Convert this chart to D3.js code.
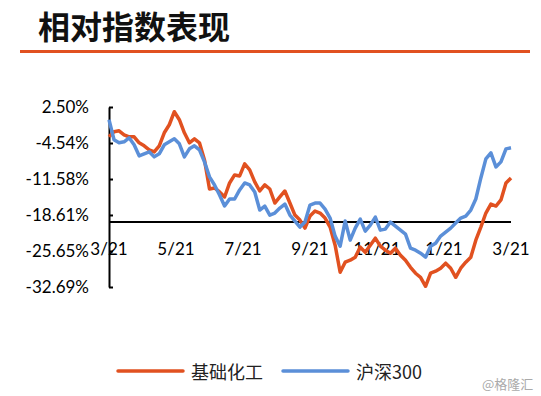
<!DOCTYPE html>
<html>
<head>
<meta charset="utf-8">
<script src="https://cdn.jsdelivr.net/npm/d3@7"></script>
<style>
  body { margin: 0; background: #fff; }
  svg { display: block; }
</style>
</head>
<body>
<script>
// values, in percent
const xLabels = ['3/21', '5/21', '7/21', '9/21', '11/21', '1/21', '3/21'];
const yTicks = [2.50, -4.54, -11.58, -18.61, -25.65, -32.69];
const baseValue = -20;

const chemical = [
  -3.33, -2.34, -2.15, -2.93, -3.33, -3.33, -4.50, -5.09, -5.88, -6.27,
  -5.09, -2.54, -0.97, 1.58, 0.01, -2.54, -4.50, -3.72, -4.50, -7.84,
  -13.53, -13.33, -14.11, -15.09, -12.35, -10.78, -10.98, -8.62, -9.80, -12.15,
  -13.92, -12.74, -13.53, -16.27, -15.09, -13.92, -16.27, -18.63, -19.61, -21.18,
  -18.82, -17.84, -18.23, -19.21, -20.98, -24.51, -29.81, -27.84, -27.45, -26.86,
  -24.90, -25.88, -24.51, -23.14, -24.71, -25.49, -26.08, -25.10, -26.47, -27.45,
  -28.83, -30.00, -30.79, -32.55, -30.00, -29.61, -29.02, -28.04, -29.02, -30.79,
  -29.02, -27.84, -26.86, -23.53, -20.98, -18.23, -16.47, -16.86, -15.68, -12.35,
  -11.37
];

const hs300 = [
  0.01, -3.91, -4.50, -4.31, -3.52, -4.89, -7.05, -6.66, -6.27, -7.25,
  -6.66, -4.89, -4.31, -3.72, -4.70, -7.25, -5.68, -5.09, -5.88, -8.23,
  -11.17, -12.74, -14.70, -16.86, -15.49, -15.49, -13.72, -12.35, -12.74, -14.11,
  -17.64, -16.86, -18.63, -18.23, -17.25, -16.47, -18.63, -19.80, -20.98, -20.00,
  -16.66, -16.27, -16.27, -17.45, -19.21, -22.74, -24.71, -19.80, -23.53, -21.18,
  -19.41, -21.76, -20.59, -19.02, -21.57, -21.37, -20.00, -20.78, -21.57, -22.35,
  -25.10, -25.49, -26.08, -26.86, -24.71, -24.12, -22.74, -21.96, -21.18, -20.19,
  -19.21, -18.82, -17.64, -15.49, -11.37, -7.64, -6.46, -9.21, -8.23, -5.68,
  -5.48
];

const seriesNames = ['基础化工', '沪深300'];
const seriesColors = ['#e15120', '#5b8fd8'];

function drawChart() {
  const svgWidth = 541, svgHeight = 396;
  const left = 109, right = 511, top = 107, bottom = 287;
  const labelFont = 'Lato, "Liberation Sans", sans-serif';
  const cjkFont = '"Noto Sans CJK SC", sans-serif';

  const svg = d3.select('body')
    .append('svg')
    .attr('width', svgWidth)
    .attr('height', svgHeight);

  // title + rule
  svg.append('text')
    .attr('x', 38)
    .attr('y', 25)
    .attr('dominant-baseline', 'central')
    .style('font-family', cjkFont)
    .style('font-weight', 'bold')
    .style('font-size', '32px')
    .attr('fill', '#111')
    .text('相对指数表现');

  svg.append('line')
    .attr('x1', 20).attr('x2', 530)
    .attr('y1', 51.5).attr('y2', 51.5)
    .attr('stroke', '#e15120')
    .attr('stroke-width', 3);

  const n = chemical.length;
  const xScale = d3.scaleLinear()
    .domain([0, n - 1])
    .range([left, right]);

  const yScale = d3.scaleLinear()
    .domain([d3.min(yTicks), d3.max(yTicks)])
    .range([bottom, top]);

  const yAxis = d3.axisLeft(yScale)
    .tickValues(yTicks)
    .tickFormat(d => d.toFixed(2) + '%')
    .tickSizeInner(-4)
    .tickSizeOuter(0)
    .tickPadding(20);

  const gy = svg.append('g')
    .attr('transform', `translate(${left}, 0)`)
    .call(yAxis);
  gy.select('.domain').attr('stroke', '#000').attr('stroke-width', 2);
  gy.selectAll('.tick line').attr('stroke', '#000').attr('stroke-width', 2);
  gy.selectAll('.tick text')
    .style('font-family', labelFont)
    .style('font-size', '17px')
    .attr('fill', '#000');

  // horizontal axis crossing at the base value
  svg.append('line')
    .attr('x1', left).attr('x2', right)
    .attr('y1', yScale(baseValue)).attr('y2', yScale(baseValue))
    .attr('stroke', '#000')
    .attr('stroke-width', 2);

  const labelStep = (n - 1) / (xLabels.length - 1);
  svg.append('g')
    .selectAll('text')
    .data(xLabels)
    .enter()
    .append('text')
    .attr('x', (_, i) => xScale(i * labelStep))
    .attr('y', 255)
    .attr('text-anchor', 'middle')
    .style('font-family', labelFont)
    .style('font-size', '17px')
    .attr('fill', '#000')
    .text(d => d);

  const line = d3.line()
    .x((_, i) => xScale(i))
    .y(d => yScale(d));

  [chemical, hs300].forEach((values, k) => {
    svg.append('path')
      .datum(values)
      .attr('d', line)
      .attr('fill', 'none')
      .attr('stroke', seriesColors[k])
      .attr('stroke-width', 3.5)
      .attr('stroke-linejoin', 'round');
  });

  // legend
  const legendX = [118, 283];
  const legend = svg.append('g')
    .selectAll('g')
    .data(seriesNames)
    .enter()
    .append('g')
    .attr('transform', (_, i) => `translate(${legendX[i]}, 371)`);

  legend.append('line')
    .attr('x1', 0).attr('x2', 65)
    .attr('stroke', (_, i) => seriesColors[i])
    .attr('stroke-width', 3.5)
    .attr('stroke-linecap', 'round');

  legend.append('text')
    .attr('x', 73)
    .attr('dominant-baseline', 'central')
    .style('font-family', cjkFont)
    .style('font-size', '18px')
    .attr('fill', '#222')
    .text(d => d);

  svg.append('text')
    .attr('x', 482)
    .attr('y', 383)
    .attr('dominant-baseline', 'central')
    .style('font-family', cjkFont)
    .style('font-size', '13px')
    .attr('fill', '#aaa')
    .text('@格隆汇');
}

drawChart();
</script>
</body>
</html>
